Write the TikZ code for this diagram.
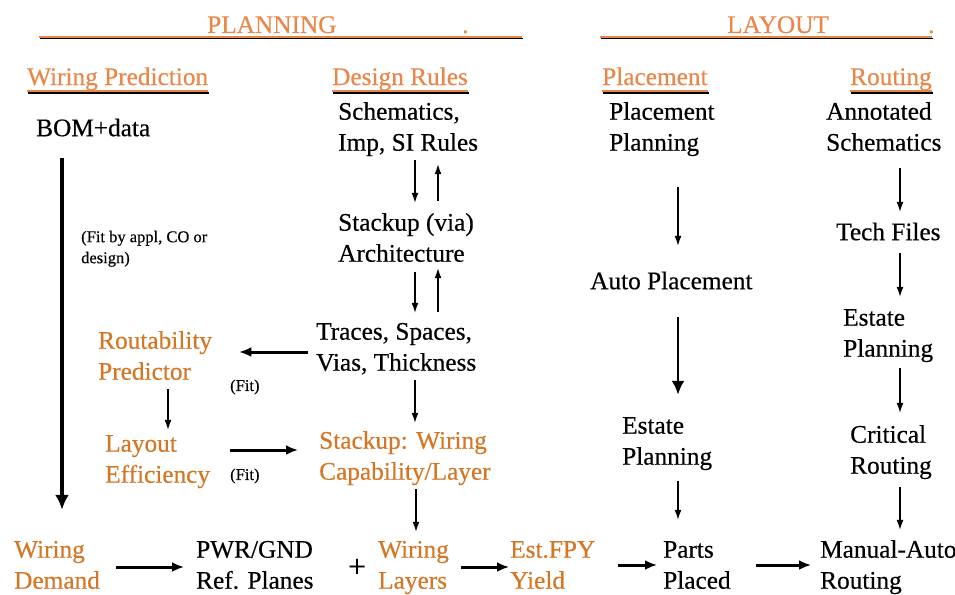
\documentclass[tikz,border=0pt]{standalone}
\usepackage{fontspec}
\setmainfont{Liberation Serif}[FakeBold=0.4]
\usetikzlibrary{arrows.meta}
\definecolor{headorange}{RGB}{234,134,72}
\definecolor{lblorange}{RGB}{212,118,36}
\definecolor{shade}{RGB}{160,160,160}
\newcommand{\twoline}[2]{\strut #1\\\strut #2}
\begin{document}
\begin{tikzpicture}[x=1pt,y=-1pt,
  every node/.style={inner sep=0pt,font=\fontsize{25.3}{31}\selectfont},
  txt/.style={anchor=west,align=left},
  org/.style={txt,text=lblorange},
  note/.style={anchor=west,align=left,font=\fontsize{16.5}{21}\selectfont},
  head/.style={anchor=base west,text=headorange},
  uline/.style={headorange,line width=1.8pt},
  ushade/.style={shade,line width=1.8pt},
  arr/.style={-{Latex[length=10pt,width=7pt]},line width=1.3pt},
  barr/.style={-{Latex[length=12pt,width=10pt]},line width=3pt},
  bigarr/.style={-{Latex[length=15pt,width=14pt]},line width=3.2pt}]
\useasboundingbox (0,0) rectangle (955,594);

% section titles
\node[head] (plan) at (207,33) {PLANNING};
\node[head] (pdot) at (462,33) {.};
\node[head] (lay) at (727,33) {LAYOUT};
\node[head] (ldot) at (928,33) {.};
\draw[ushade] (40,38.6) -- (523,38.6);
\draw[uline] (39,37) -- (522,37);
\draw[ushade] (601,38.6) -- (933,38.6);
\draw[uline] (600,37) -- (932,37);

% column titles
\node[head] (wp) at (27,85) {Wiring Prediction};
\node[head] (dr) at (332,85) {Design Rules};
\node[head] (pl) at (602,85) {Placement};
\node[head] (rt) at (850,85) {Routing};
\foreach \h in {wp,dr,pl,rt}{
  \draw[ushade] ([xshift=1pt,yshift=-7.6pt]\h.base west) -- ([xshift=1pt,yshift=-7.6pt]\h.base east);
  \draw[uline] ([yshift=-6pt]\h.base west) -- ([yshift=-6pt]\h.base east);
}

% planning: wiring prediction
\node[txt] (bom) at (36,130) {\strut BOM+data};
\node[note] (fitnote) at (81,248.5) {\strut(Fit by appl, CO or\\\strut design)};
\node[org] (rout) at (98,358) {\twoline{Routability}{Predictor}};
\node[note] (fit1) at (230,387) {(Fit)};
\node[org] (leff) at (105,461) {\twoline{Layout}{Efficiency}};
\node[note] (fit2) at (230,476) {(Fit)};

% planning: design rules
\node[txt] (sch) at (338,129) {\twoline{Schematics,}{Imp, SI Rules}};
\node[txt] (stk) at (338,240) {\twoline{Stackup (via)}{Architecture}};
\node[txt] (trc) at (316,349) {\twoline{Traces, Spaces,}{Vias, Thickness}};
\node[org] (swc) at (319,458) {\twoline{Stackup: Wiring}{Capability/Layer}};

% layout columns
\node[txt] (ppl) at (609,129) {\twoline{Placement}{Planning}};
\node[txt] (apl) at (590,283) {\strut Auto Placement};
\node[txt] (ep1) at (622,443) {\twoline{Estate}{Planning}};
\node[txt] (ann) at (826,129) {\twoline{Annotated}{Schematics}};
\node[txt] (tf) at (836,234) {\strut Tech Files};
\node[txt] (ep2) at (843,335) {\twoline{Estate}{Planning}};
\node[txt] (cr) at (850,452) {\twoline{Critical}{Routing}};

% bottom row
\node[org] (wd) at (14,567) {\twoline{Wiring}{Demand}};
\node[txt] (pwr) at (196,567) {\twoline{PWR/GND}{Ref. Planes}};
\node[font=\fontsize{32}{32}\selectfont] (plus) at (357,568) {+};
\node[org] (wl) at (378,567) {\twoline{Wiring}{Layers}};
\node[org] (fpy) at (510,567) {\twoline{Est.FPY}{Yield}};
\node[txt] (pp) at (663,567) {\twoline{Parts}{Placed}};
\node[txt] (mar) at (820,567) {\twoline{Manual-Auto}{Routing}};

% arrow lanes
\coordinate (xa) at (62,0);
\coordinate (xb) at (415,0);
\coordinate (xc) at (438,0);
\coordinate (xd) at (168,0);
\coordinate (xe) at (416,0);
\coordinate (xf) at (678,0);
\coordinate (xg) at (900,0);
\coordinate (ya) at (0,352);
\coordinate (yb) at (0,450);
\coordinate (yc) at (0,565);

% design rules loop
\draw[arr,shorten >=6pt] (xb |- sch.south) -- (xb |- stk.north);
\draw[arr,shorten <=8pt,shorten >=4pt] (xc |- stk.north) -- (xc |- sch.south);
\draw[arr,shorten <=1pt,shorten >=5pt] (xb |- stk.south) -- (xb |- trc.north);
\draw[arr,shorten <=6pt,shorten >=-3pt] (xc |- trc.north) -- (xc |- stk.south);
\draw[arr,shorten >=4pt] (xb |- trc.south) -- (xb |- swc.north);
\draw[arr,shorten >=4pt] (xe |- swc.south) -- (xe |- wl.north);

% fit loop
\draw[barr,shorten <=8pt,shorten >=27pt] (trc.west |- ya) -- (rout.east |- ya);
\draw[arr] (xd |- rout.south) -- (xd |- leff.north);
\draw[barr,shorten <=20pt,shorten >=21pt] (leff.east |- yb) -- (swc.west |- yb);

% wiring demand
\draw[bigarr,shorten <=12.5pt,shorten >=26pt] (xa |- bom.south) -- (xa |- wd.north);

% bottom chain
\draw[barr,shorten <=16pt,shorten >=12pt] (wd.east) -- (pwr.west);
\draw[barr,shorten <=12pt,shorten >=1pt] (wl.east) -- (fpy.west);
\draw[barr,shorten <=23pt,shorten >=6pt] (fpy.east |- yc) -- (pp.west |- yc);
\draw[barr,shorten <=25pt,shorten >=9pt] (pp.east |- yc) -- (mar.west |- yc);

% placement column
\draw[arr,shorten <=27pt,shorten >=21.5pt] (xf |- ppl.south) -- (xf |- apl.north);
\draw[-{Latex[length=14pt,width=13pt]},line width=2.8pt,shorten <=18.5pt,shorten >=17pt] (xf |- apl.south) -- (xf |- ep1.north);
\draw[arr,shorten <=7pt,shorten >=16pt] (xf |- ep1.south) -- (xf |- pp.north);

% routing column
\draw[arr,shorten <=8pt,shorten >=6.5pt] (xg |- ann.south) -- (xg |- tf.north);
\draw[arr,shorten <=3.5pt,shorten >=7pt] (xg |- tf.south) -- (xg |- ep2.north);
\draw[arr,shorten <=2pt,shorten >=8pt] (xg |- ep2.south) -- (xg |- cr.north);
\draw[arr,shorten <=4pt,shorten >=6pt] (xg |- cr.south) -- (xg |- mar.north);
\end{tikzpicture}
\end{document}
